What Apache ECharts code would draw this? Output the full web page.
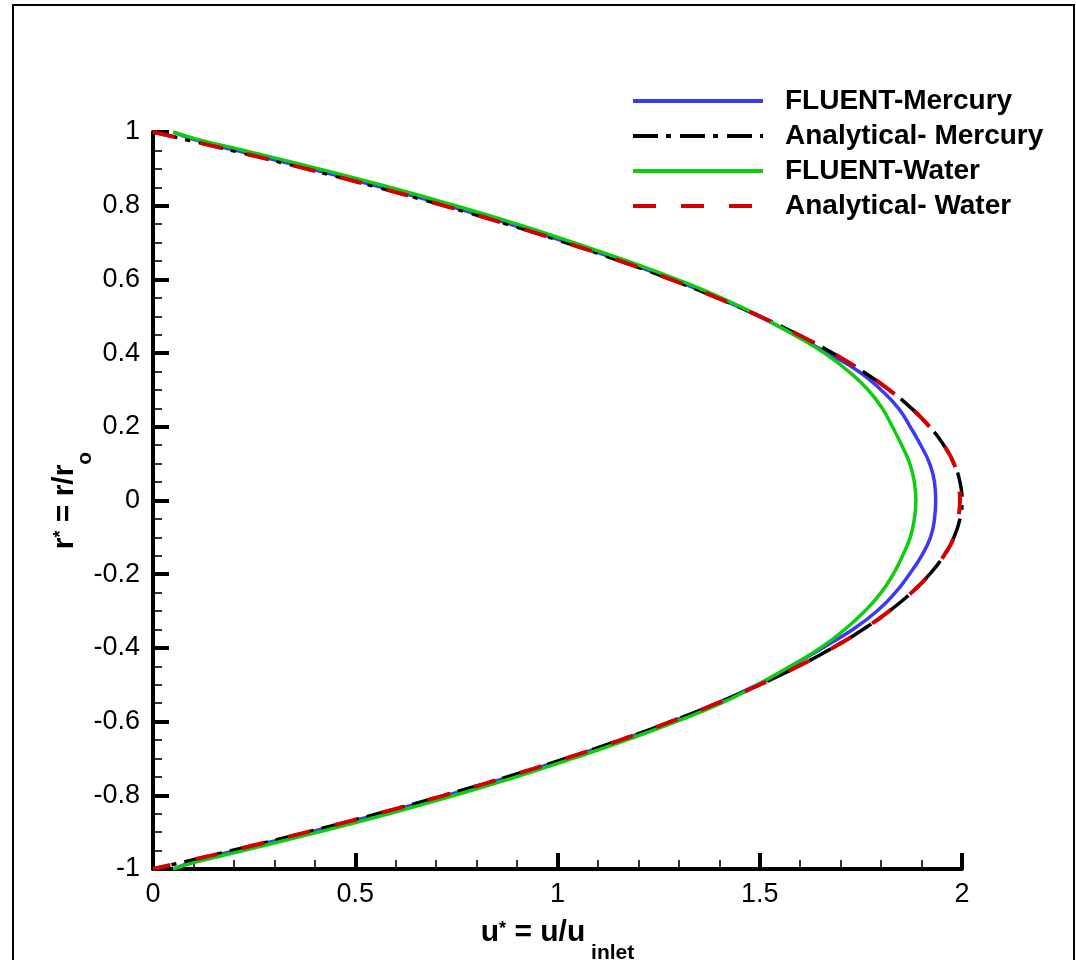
<!DOCTYPE html>
<html>
<head>
<meta charset="utf-8">
<script src="https://cdn.jsdelivr.net/npm/echarts@6/dist/echarts.min.js"></script>
<style>
html,body{margin:0;padding:0;background:#fff;}
#chart{width:1076px;height:960px;}
</style>
</head>
<body>
<div id="chart"></div>
<script>
// radial position r* = r/r0 (shared by all series)
var rValues = [1, 0.98, 0.95, 0.9, 0.85, 0.8, 0.75, 0.7, 0.65, 0.6, 0.55, 0.5, 0.45, 0.4, 0.35, 0.3, 0.25, 0.2, 0.15, 0.1, 0.05, 0,
  -0.05, -0.1, -0.15, -0.2, -0.25, -0.3, -0.35, -0.4, -0.45, -0.5, -0.55, -0.6, -0.65, -0.7, -0.75, -0.8, -0.85, -0.9, -0.95, -0.98, -1];

// u* = u/u_inlet for each series
var fluentMercury = [0.05, 0.10, 0.205, 0.39, 0.565, 0.73, 0.882, 1.025, 1.16, 1.285, 1.397, 1.497, 1.585, 1.668, 1.745, 1.800, 1.843, 1.872, 1.898, 1.920, 1.932, 1.935,
  1.932, 1.922, 1.900, 1.870, 1.835, 1.790, 1.730, 1.655, 1.578, 1.493, 1.395, 1.283, 1.158, 1.023, 0.880, 0.728, 0.563, 0.388, 0.203, 0.10, 0.05];

var analyticalMercury = [0.0, 0.079, 0.195, 0.38, 0.555, 0.72, 0.875, 1.02, 1.155, 1.28, 1.395, 1.50, 1.595, 1.68, 1.755, 1.82, 1.875, 1.92, 1.955, 1.98, 1.995, 2.0,
  1.995, 1.98, 1.955, 1.92, 1.875, 1.82, 1.755, 1.68, 1.595, 1.50, 1.395, 1.28, 1.155, 1.02, 0.875, 0.72, 0.555, 0.38, 0.195, 0.079, 0.0];

var fluentWater = [0.05, 0.11, 0.225, 0.41, 0.585, 0.748, 0.90, 1.04, 1.172, 1.295, 1.405, 1.50, 1.585, 1.66, 1.72, 1.768, 1.803, 1.828, 1.851, 1.871, 1.882, 1.886,
  1.882, 1.872, 1.853, 1.830, 1.800, 1.760, 1.710, 1.650, 1.575, 1.495, 1.405, 1.293, 1.170, 1.038, 0.898, 0.746, 0.583, 0.408, 0.223, 0.11, 0.05];

var analyticalWater = [0.0, 0.079, 0.195, 0.38, 0.555, 0.72, 0.875, 1.02, 1.155, 1.28, 1.395, 1.50, 1.595, 1.68, 1.755, 1.82, 1.875, 1.92, 1.955, 1.98, 1.99, 1.995,
  1.99, 1.98, 1.955, 1.92, 1.875, 1.82, 1.755, 1.68, 1.595, 1.50, 1.395, 1.28, 1.155, 1.02, 0.875, 0.72, 0.555, 0.38, 0.195, 0.079, 0.0];

var seriesNames = ['FLUENT-Mercury', 'Analytical- Mercury', 'FLUENT-Water', 'Analytical- Water'];
var xTickLabels = ['0', '0.5', '1', '1.5', '2'];
var yTickLabels = ['-1', '-0.8', '-0.6', '-0.4', '-0.2', '0', '0.2', '0.4', '0.6', '0.8', '1'];

function pairs(u) { return rValues.map(function (r, i) { return [u[i], r]; }); }

var FONT = 'Liberation Sans, Arial, Helvetica, sans-serif';
var titleRich = {
  m: { fontFamily: FONT, fontSize: 30, fontWeight: 'bold', color: '#000', lineHeight: 30, verticalAlign: 'bottom', padding: [0, 0, 16, 0] },
  s: { fontFamily: FONT, fontSize: 18, fontWeight: 'bold', color: '#000', lineHeight: 18, verticalAlign: 'bottom', padding: [0, 0, 26, 0] },
  b: { fontFamily: FONT, fontSize: 21, fontWeight: 'bold', color: '#000', lineHeight: 21, verticalAlign: 'bottom', padding: [0, 0, 0, 0] }
};

var chart = echarts.init(document.getElementById('chart'), null, { renderer: 'canvas' });
var axisCommon = {
  type: 'value',
  axisLine: { show: true, onZero: false, lineStyle: { color: '#000', width: 4 } },
  axisTick: { show: true, inside: true, length: 16, lineStyle: { color: '#000', width: 4 } },
  minorTick: { show: true, length: 9, lineStyle: { color: '#000', width: 1.6 } },
  splitLine: { show: false },
  minorSplitLine: { show: false },
  nameMoveOverlap: false
};

var option = {
  backgroundColor: '#fff',
  animation: false,
  grid: { left: 153, right: 114, top: 132, bottom: 91, containLabel: false, outerBoundsMode: 'none' },
  legend: {
    orient: 'vertical',
    left: 631,
    top: 87,
    padding: 0,
    itemWidth: 130,
    itemHeight: 14,
    itemGap: 7,
    data: seriesNames,
    itemStyle: { opacity: 0 },
    lineStyle: { width: 4 },
    textStyle: { fontFamily: FONT, fontSize: 28, fontWeight: 'bold', color: '#000', lineHeight: 28, padding: [0, 0, 0, 17] }
  },
  xAxis: Object.assign({}, axisCommon, {
    min: 0, max: 2, interval: 0.5,
    minorTick: Object.assign({}, axisCommon.minorTick, { splitNumber: 5 }),
    axisLabel: {
      fontFamily: FONT, fontSize: 27, color: '#000', margin: 12,
      formatter: function (v) { return xTickLabels[Math.round(v / 0.5)]; }
    },
    name: '{m|u}{s|*}{m| = u/u}{b| inlet}',
    nameLocation: 'middle',
    nameGap: 65,
    nameTextStyle: { rich: titleRich }
  }),
  yAxis: Object.assign({}, axisCommon, {
    min: -1, max: 1, interval: 0.2,
    minorTick: Object.assign({}, axisCommon.minorTick, { splitNumber: 4 }),
    axisLabel: {
      fontFamily: FONT, fontSize: 27, color: '#000', margin: 13,
      formatter: function (v) { return yTickLabels[Math.round((v + 1) / 0.2)]; }
    },
    name: '{m|r}{s|*}{m| = r/r}{b|o}',
    nameLocation: 'middle',
    nameRotate: 90,
    nameGap: 57,
    nameTextStyle: { rich: titleRich }
  }),
  graphic: [{
    type: 'rect',
    shape: { x: 13, y: 5, width: 1061, height: 1000 },
    style: { fill: 'none', stroke: '#000', lineWidth: 2 },
    silent: true, z: 100
  }],
  series: [
    { name: seriesNames[0], type: 'line', data: pairs(fluentMercury), smooth: true, symbol: 'none',
      lineStyle: { color: '#3a3af5', width: 3.5 }, itemStyle: { color: '#3a3af5' } },
    { name: seriesNames[1], type: 'line', data: pairs(analyticalMercury), smooth: true, symbol: 'none',
      lineStyle: { color: '#000', width: 3.5, type: [25, 8, 5, 9] }, itemStyle: { color: '#000' } },
    { name: seriesNames[2], type: 'line', data: pairs(fluentWater), smooth: true, symbol: 'none',
      lineStyle: { color: '#0fcc0f', width: 3.5 }, itemStyle: { color: '#0fcc0f' } },
    { name: seriesNames[3], type: 'line', data: pairs(analyticalWater), smooth: true, symbol: 'none',
      lineStyle: { color: '#d40000', width: 4, type: [23, 25] }, itemStyle: { color: '#d40000' } }
  ]
};
chart.setOption(option);
</script>
</body>
</html>
